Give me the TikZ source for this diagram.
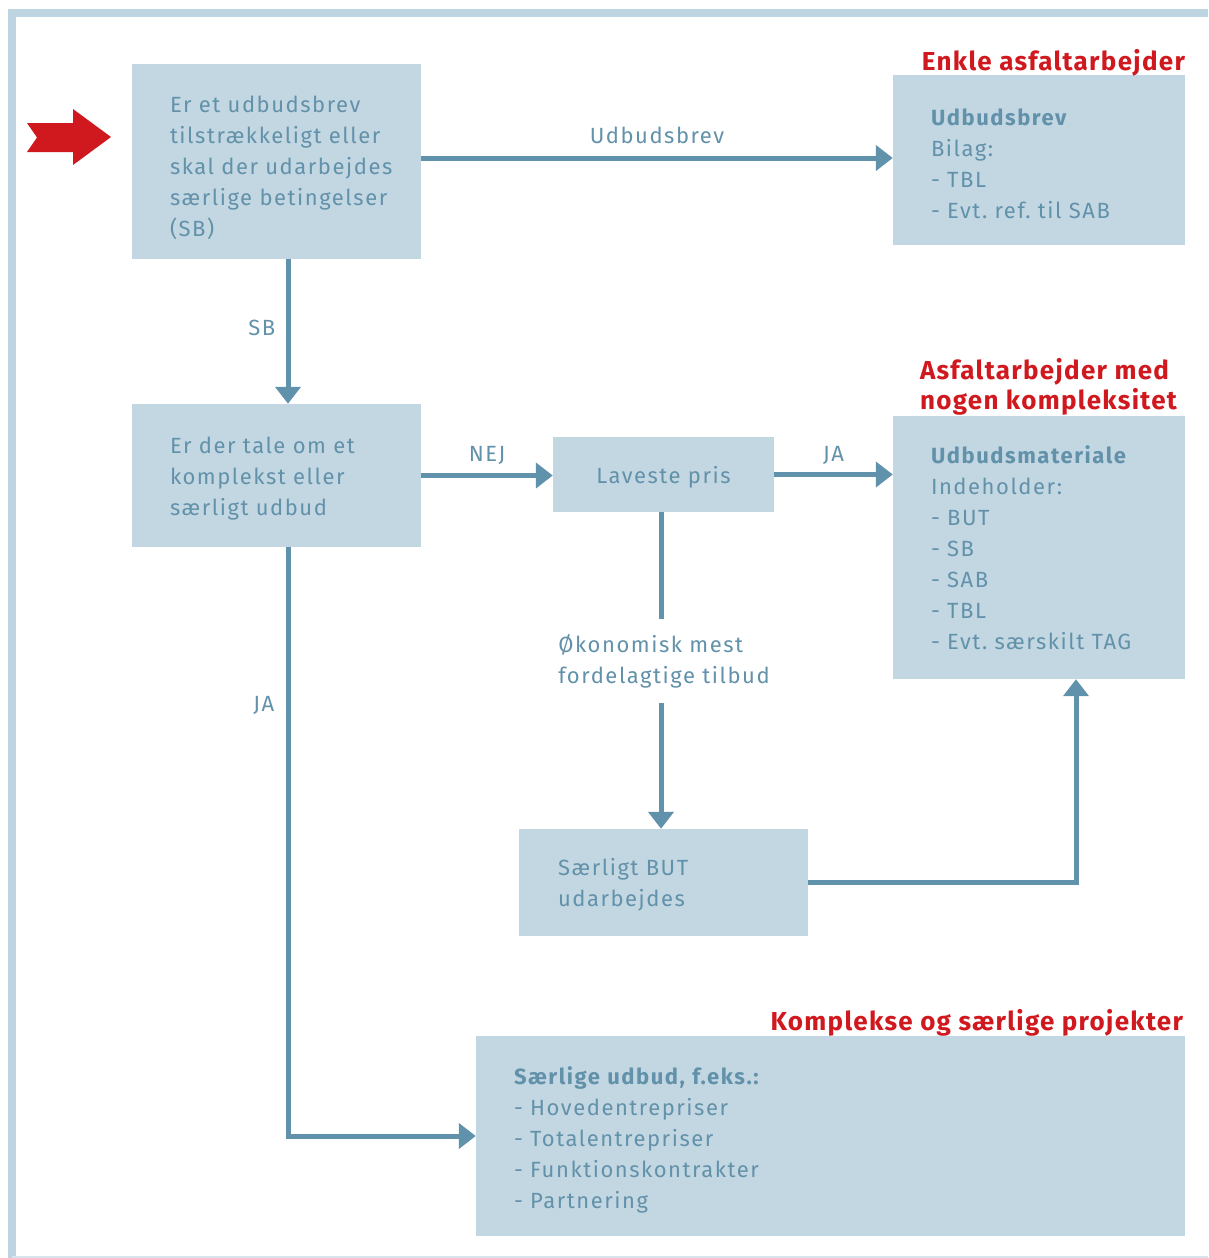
\documentclass[tikz,border=0pt]{standalone}
\usepackage{fontspec}
\setmainfont{Fira Sans}[LetterSpace=7]
\newfontfamily\titlefont{Fira Sans}[LetterSpace=5]
\usetikzlibrary{arrows.meta}
\definecolor{boxc}{RGB}{195,215,226}
\definecolor{textc}{RGB}{98,145,170}
\definecolor{linec}{RGB}{96,147,171}
\definecolor{redc}{RGB}{208,25,31}
\definecolor{framec}{RGB}{190,212,224}
\frenchspacing
\begin{document}
\begin{tikzpicture}[x=1pt,y=-1pt,
  bodyfont/.style={font=\fontsize{22}{31}\selectfont\frenchspacing},
  boxbase/.style={fill=boxc, draw=none, text=textc, bodyfont, inner sep=0pt},
  box/.style={boxbase, align=left, execute at begin node={\leftskip=#1\relax}},
  box/.default=38pt,
  conn/.style={draw=linec, line width=5pt, -{Triangle[length=17pt,width=25pt]}},
  plain/.style={draw=linec, line width=5pt},
  lbl/.style={text=textc, bodyfont},
  redtitle/.style={text=redc, font=\titlefont\fontsize{26}{30}\selectfont\bfseries, inner sep=0pt, align=left}]
\useasboundingbox (0,0) rectangle (1208,1258);
% frame
\draw[framec, line width=8pt] (12,1258) -- (12,13) -- (1208,13);
\draw[framec!60, line width=1.5pt] (12,1257) -- (1208,1257);
% red start arrow
\fill[redc] (27,123) -- (73,123) -- (73,109) -- (111,137) -- (73,165) -- (73,152) -- (27,152) -- (37,137.5) -- cycle;
% boxes
\node[box, text width=289pt, minimum height=195pt, text height=28.5pt] (A) at (276.5,161.5)
  {Er et udbudsbrev\\tilstrækkeligt eller\\skal der udarbejdes\\særlige betingelser\\(SB)};
\node[box, text width=292pt, minimum height=170pt, text height=24pt] (B) at (1039,160)
  {\textbf{Udbudsbrev}\\Bilag:\\- TBL\\- Evt. ref. til SAB};
\node[box, text width=289pt, minimum height=143pt, text height=22.5pt] (C) at (276.5,475.5)
  {Er der tale om et\\komplekst eller\\særligt udbud};
\node[boxbase, minimum width=221pt, minimum height=75pt, text height=22pt] (D) at (663.5,474.5)
  {Laveste pris};
\node[box, text width=292pt, minimum height=263pt, text height=18.5pt] (E) at (1039,547.5)
  {\textbf{Udbudsmateriale}\\Indeholder:\\- BUT\\- SB\\- SAB\\- TBL\\- Evt. særskilt TAG};
\node[box=39pt, text width=289pt, minimum height=107pt, text height=22.5pt] (F) at (663.5,882.5)
  {Særligt BUT\\udarbejdes};
\node[box, text width=709pt, minimum height=200pt, text height=26.5pt] (G) at (830.5,1136)
  {\textbf{Særlige udbud, f.eks.:}\\- Hovedentrepriser\\- Totalentrepriser\\- Funktionskontrakter\\- Partnering};
\node[lbl, align=left, inner xsep=0pt, inner ysep=15pt] (econ) at (664,661)
  {Økonomisk mest\\fordelagtige tilbud};
% red titles
\node[redtitle, anchor=south east] (tB) at ([yshift=-2pt]B.north east) {Enkle asfaltarbejder};
\node[redtitle, anchor=south west] (tE) at ([xshift=27pt,yshift=0pt]E.north west) {Asfaltarbejder med\\nogen kompleksitet};
\node[redtitle, anchor=south east] (tG) at ([xshift=-2pt,yshift=-1pt]G.north east) {Komplekse og særlige projekter};
% connectors
\draw[conn] ([yshift=3.5pt]A.east) -- node[lbl, above=8pt] {Udbudsbrev} ([yshift=3.5pt]A.east -| B.west);
\draw[conn] ([xshift=11.5pt]A.south) -- node[lbl, left=7pt, yshift=4pt] {SB} ([xshift=11.5pt]A.south |- C.north);
\draw[conn] (C.east) -- node[lbl, above=5pt] {NEJ} (C.east -| D.west);
\draw[conn] (D.east) -- node[lbl, above=4pt] {JA} (D.east -| E.west);
\draw[plain] ([xshift=-2.5pt]D.south) -- ([xshift=-2.5pt]D.south |- econ.north);
\draw[conn] ([xshift=-2.5pt]D.south |- econ.south) -- ([xshift=-2.5pt]D.south |- F.north);
\draw[conn] (F.east) -| ([xshift=37pt]E.south);
\draw[conn] ([xshift=11.5pt]C.south) |- node[lbl, left=8pt, pos=0.134] {JA} (G.west);
\end{tikzpicture}
\end{document}
